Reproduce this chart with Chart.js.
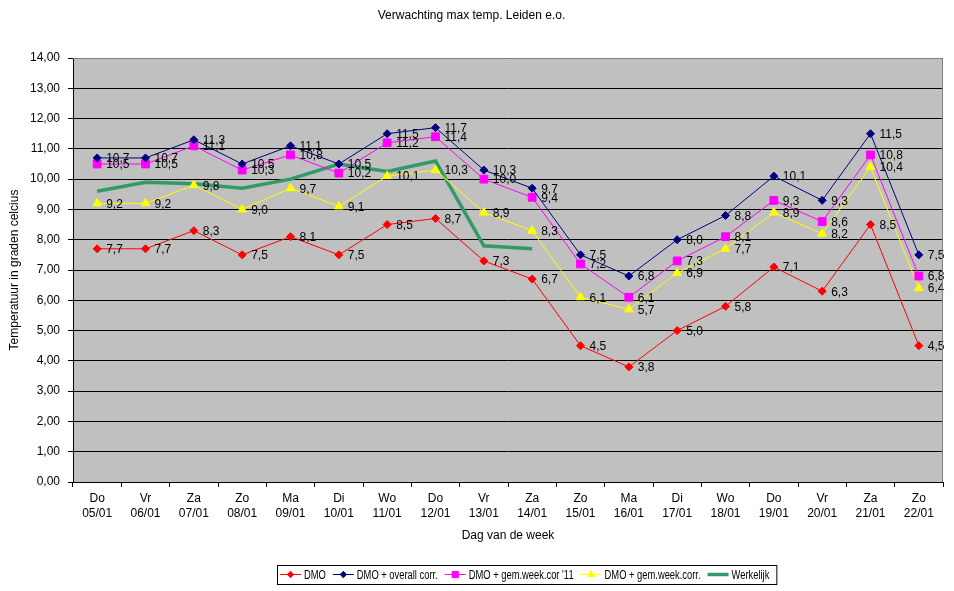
<!DOCTYPE html>
<html>
<head>
<meta charset="utf-8">
<script src="https://cdn.jsdelivr.net/npm/chart.js@4.4.1/dist/chart.umd.min.js"></script>
<style>
  html, body { margin: 0; padding: 0; background: #fff; }
  canvas { display: block; }
</style>
</head>
<body>
<canvas id="chart" width="954" height="591"></canvas>
<script>
// Categorieen (dag + datum)
const dagen = [
    ['Do', '05/01'], ['Vr', '06/01'], ['Za', '07/01'], ['Zo', '08/01'], ['Ma', '09/01'],
    ['Di', '10/01'], ['Wo', '11/01'], ['Do', '12/01'], ['Vr', '13/01'], ['Za', '14/01'],
    ['Zo', '15/01'], ['Ma', '16/01'], ['Di', '17/01'], ['Wo', '18/01'], ['Do', '19/01'],
    ['Vr', '20/01'], ['Za', '21/01'], ['Zo', '22/01']
];

// Reeksen
const dmo         = [7.7, 7.7, 8.3, 7.5, 8.1, 7.5, 8.5, 8.7, 7.3, 6.7, 4.5, 3.8, 5.0, 5.8, 7.1, 6.3, 8.5, 4.5];
const dmoOverall  = [10.7, 10.7, 11.3, 10.5, 11.1, 10.5, 11.5, 11.7, 10.3, 9.7, 7.5, 6.8, 8.0, 8.8, 10.1, 9.3, 11.5, 7.5];
const dmoWeek11   = [10.5, 10.5, 11.1, 10.3, 10.8, 10.2, 11.2, 11.4, 10.0, 9.4, 7.2, 6.1, 7.3, 8.1, 9.3, 8.6, 10.8, 6.8];
const dmoWeek     = [9.2, 9.2, 9.8, 9.0, 9.7, 9.1, 10.1, 10.3, 8.9, 8.3, 6.1, 5.7, 6.9, 7.7, 8.9, 8.2, 10.4, 6.4];
const werkelijk   = [9.6, 9.9, 9.85, 9.7, 10.0, 10.5, 10.25, 10.6, 7.8, 7.7, null, null, null, null, null, null, null, null];

// Y-as
const yMin = 0;
const yMax = 14;
const yStap = 1;

const FONT = "'Liberation Sans', Arial, sans-serif";

const komma = (v, d) => v.toFixed(d).replace('.', ',');

// Grijze achtergrond van het plotgebied
const plotAchtergrond = {
    id: 'plotAchtergrond',
    beforeDraw(chart) {
        const { ctx, chartArea: a } = chart;
        ctx.save();
        ctx.fillStyle = '#ffffff';
        ctx.fillRect(0, 0, chart.width, chart.height);
        ctx.fillStyle = '#c0c0c0';
        ctx.fillRect(a.left, a.top, a.right - a.left, a.bottom - a.top);
        ctx.restore();
    },
    afterDraw(chart) {
        const { ctx, chartArea: a } = chart;
        ctx.save();
        ctx.strokeStyle = '#808080';
        ctx.lineWidth = 1;
        ctx.beginPath();
        ctx.moveTo(a.left, a.top + 0.5);
        ctx.lineTo(a.right - 0.5, a.top + 0.5);
        ctx.lineTo(a.right - 0.5, a.bottom);
        ctx.stroke();
        ctx.restore();
    }
};

// Waardelabels rechts van elk punt
const waardeLabels = {
    id: 'waardeLabels',
    afterDatasetsDraw(chart) {
        const { ctx } = chart;
        ctx.save();
        ctx.font = '12px ' + FONT;
        ctx.fillStyle = '#000';
        ctx.textAlign = 'left';
        ctx.textBaseline = 'middle';
        chart.data.datasets.forEach((ds, i) => {
            if (!ds.labels) return;
            const meta = chart.getDatasetMeta(i);
            meta.data.forEach((pt, j) => {
                const v = ds.data[j];
                if (v == null) return;
                ctx.fillText(komma(v, 1), pt.x + 9, pt.y + 1);
            });
        });
        ctx.restore();
    }
};

// Legenda met kader onderaan
const legendaKader = {
    id: 'legendaKader',
    afterDraw(chart) {
        const { ctx } = chart;
        const sx = 0.78;
        const yc = 574.5;
        ctx.save();
        ctx.font = '12px ' + FONT;
        const items = chart.data.datasets.map((ds, i) => ({
            ds,
            w: ctx.measureText(ds.label).width * sx
        }));
        let totaal = 3;
        items.forEach(it => { totaal += 24 + it.w + 7; });
        const links = Math.round(527 - totaal / 2);
        ctx.fillStyle = '#fff';
        ctx.fillRect(links, 565, totaal, 19);
        ctx.strokeStyle = '#000';
        ctx.lineWidth = 1;
        ctx.strokeRect(links + 0.5, 565.5, totaal, 19);

        let x = links + 3;
        items.forEach(it => {
            const ds = it.ds;
            ctx.strokeStyle = ds.borderColor;
            ctx.lineWidth = ds.borderWidth;
            ctx.beginPath();
            ctx.moveTo(x, yc);
            ctx.lineTo(x + 21, yc);
            ctx.stroke();
            if (ds.pointRadius > 0) {
                ctx.fillStyle = ds.pointBackgroundColor;
                ctx.strokeStyle = ds.pointBorderColor;
                ctx.lineWidth = 1;
                Chart.helpers.drawPoint(ctx, {
                    pointStyle: ds.pointStyle,
                    rotation: 0,
                    radius: ds.pointRadius * 0.8,
                    borderWidth: 1
                }, x + 10.5, yc);
            }
            ctx.save();
            ctx.translate(x + 24, yc);
            ctx.scale(sx, 1);
            ctx.fillStyle = '#000';
            ctx.textAlign = 'left';
            ctx.textBaseline = 'middle';
            ctx.fillText(ds.label, 0, 1);
            ctx.restore();
            x += 24 + it.w + 7;
        });
        ctx.restore();
    }
};

function reeks(label, data, kleur, stijl, straal, labels) {
    return {
        label: label,
        data: data,
        borderColor: kleur,
        backgroundColor: kleur,
        pointBackgroundColor: kleur,
        pointBorderColor: kleur,
        borderWidth: 1,
        pointStyle: stijl,
        pointRadius: straal,
        pointBorderWidth: 1,
        pointHoverRadius: straal,
        tension: 0,
        fill: false,
        labels: labels
    };
}

const datasets = [
    reeks('DMO', dmo, '#ff0000', 'rectRot', 4, true),
    reeks('DMO + overall corr.', dmoOverall, '#000080', 'rectRot', 4, true),
    reeks("DMO + gem.week.cor '11", dmoWeek11, '#ff00ff', 'rect', 5.5, true),
    reeks('DMO + gem.week.corr.', dmoWeek, '#ffff00', 'triangle', 5, true),
    Object.assign(reeks('Werkelijk', werkelijk, '#339966', 'circle', 0, false), {
        borderWidth: 3.5,
        spanGaps: false
    })
];

new Chart(document.getElementById('chart'), {
    type: 'line',
    data: { labels: dagen, datasets: datasets },
    plugins: [plotAchtergrond, waardeLabels, legendaKader],
    options: {
        responsive: false,
        animation: false,
        devicePixelRatio: 1,
        layout: { padding: { left: 0, right: 11, top: 0, bottom: 39 } },
        plugins: {
            legend: { display: false },
            tooltip: { enabled: false },
            title: {
                display: true,
                text: 'Verwachting max temp. Leiden e.o.',
                color: '#000',
                font: { family: FONT, size: 12, weight: 'normal' },
                padding: { top: 8, bottom: 35.6 }
            }
        },
        scales: {
            x: {
                offset: true,
                grid: {
                    display: true,
                    drawOnChartArea: false,
                    drawTicks: true,
                    tickLength: 5,
                    color: '#000',
                    tickColor: '#000',
                    offset: true
                },
                border: { display: true, color: '#000', width: 1 },
                ticks: {
                    color: '#000',
                    font: { family: FONT, size: 12, lineHeight: 1.25 },
                    maxRotation: 0,
                    autoSkip: false,
                    padding: 4
                },
                title: {
                    display: true,
                    text: 'Dag van de week',
                    color: '#000',
                    font: { family: FONT, size: 12 },
                    padding: { top: 4, bottom: 9 }
                },
                afterFit(scale) { scale.height = 70; }
            },
            y: {
                min: yMin,
                max: yMax,
                grid: {
                    color: '#000',
                    tickColor: '#000',
                    tickLength: 5,
                    lineWidth: 1
                },
                border: { display: true, color: '#000', width: 1 },
                ticks: {
                    stepSize: yStap,
                    color: '#000',
                    font: { family: FONT, size: 12 },
                    padding: 8,
                    callback: v => komma(v, 2)
                },
                title: {
                    display: true,
                    text: 'Temperatuur in graden celcius',
                    color: '#000',
                    font: { family: FONT, size: 12 },
                    padding: { top: 7, bottom: 4 }
                },
                afterFit(scale) { scale.width = 73; }
            }
        }
    }
});
</script>
</body>
</html>
